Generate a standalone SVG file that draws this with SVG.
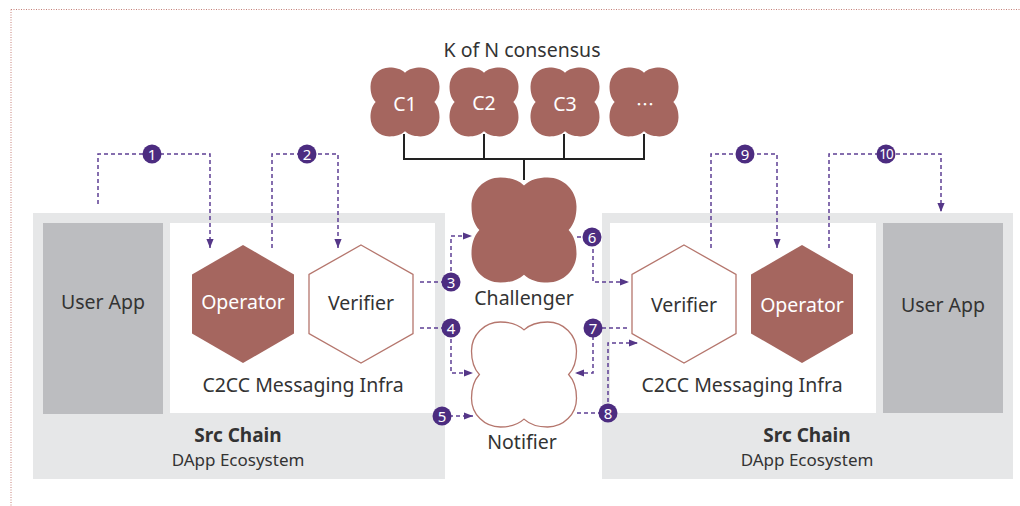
<svg xmlns="http://www.w3.org/2000/svg" width="1020" height="506" viewBox="0 0 1020 506">
<style>
text{font-family:"Noto Sans","Liberation Sans",sans-serif;fill:#333;}
.lbl{font-size:19.5px;text-anchor:middle;}
.w{fill:#fff;}
.b{font-weight:bold;font-size:19px;text-anchor:middle;}
.s{font-size:17px;text-anchor:middle;}
.outer{fill:#e6e7e8;}
.app{fill:#bcbdc0;}
.inner{fill:#fff;}
.op{fill:#a5665f;}
.ver{fill:#fff;stroke:#b5766d;stroke-width:1.3;}
.cl{vector-effect:non-scaling-stroke;}
.conn{fill:none;stroke:#5d3f94;stroke-width:1.5;stroke-dasharray:4 3;}
.badge circle{fill:#4c2c80;}
.badge text{fill:#fff;font-size:15px;text-anchor:middle;}
.brk{fill:none;stroke:#222;stroke-width:2;}
</style>
<defs>
<marker id="ah" viewBox="0 0 10 10" refX="10" refY="5" markerWidth="9" markerHeight="9" orient="auto" markerUnits="userSpaceOnUse">
<path d="M0,1 L10,5 L0,9 Z" fill="#553788"/>
</marker>
<path id="cloud" d="M0,-0.85 C0.12,-0.96 0.27,-1 0.45,-1 C0.754,-1 1,-0.754 1,-0.45 C1,-0.27 0.96,-0.12 0.85,0 C0.96,0.12 1,0.27 1,0.45 C1,0.754 0.754,1 0.45,1 C0.27,1 0.12,0.96 0,0.85 C-0.12,0.96 -0.27,1 -0.45,1 C-0.754,1 -1,0.754 -1,0.45 C-1,0.27 -0.96,0.12 -0.85,0 C-0.96,-0.12 -1,-0.27 -1,-0.45 C-1,-0.754 -0.754,-1 -0.45,-1 C-0.27,-1 -0.12,-0.96 0,-0.85 Z"/>
</defs>
<g id="frame">
<path d="M11,9.5 H1020 M11,9.5 V506" fill="none" stroke="#c47f77" stroke-width="1" stroke-dasharray="1 1.5"/>
</g>
<g id="src-chain-left">
<rect class="outer" x="33" y="213" width="412" height="266"/>
<text class="b" x="238" y="442">Src Chain</text>
<text class="s" x="238" y="466">DApp Ecosystem</text>
</g>
<g id="user-app-left">
<rect class="app" x="43" y="223" width="120" height="191"/>
<text class="lbl" x="103" y="309">User App</text>
</g>
<g id="infra-left">
<rect class="inner" x="170" y="223" width="265" height="190"/>
<text class="lbl" x="303" y="392">C2CC Messaging Infra</text>
</g>
<g id="operator-left">
<polygon class="op" points="243,245 294,274.5 294,333.5 243,363 192,333.5 192,274.5"/>
<text class="lbl w" x="243" y="309">Operator</text>
</g>
<g id="verifier-left">
<polygon class="ver" points="361,245 413,274.5 413,333.5 361,363 309,333.5 309,274.5"/>
<text class="lbl" x="361" y="310">Verifier</text>
</g>
<g id="src-chain-right">
<rect class="outer" x="602" y="213" width="411" height="266"/>
<text class="b" x="807" y="442">Src Chain</text>
<text class="s" x="807" y="466">DApp Ecosystem</text>
</g>
<g id="infra-right">
<rect class="inner" x="610" y="223" width="266" height="190"/>
<text class="lbl" x="742" y="392">C2CC Messaging Infra</text>
</g>
<g id="user-app-right">
<rect class="app" x="883" y="223" width="120" height="190"/>
<text class="lbl" x="943" y="312">User App</text>
</g>
<g id="verifier-right">
<polygon class="ver" points="684,245 736,274.5 736,333.5 684,363 632,333.5 632,274.5"/>
<text class="lbl" x="684" y="312">Verifier</text>
</g>
<g id="operator-right">
<polygon class="op" points="802,245 853,274.5 853,333.5 802,363 751,333.5 751,274.5"/>
<text class="lbl w" x="802" y="312">Operator</text>
</g>
<g id="consensus">
<text class="lbl" x="522" y="57">K of N consensus</text>
</g>
<g id="c1">
<use href="#cloud" class="op" transform="translate(405,102) scale(34.5)"/>
<text class="lbl w" x="405" y="111">C1</text>
</g>
<g id="c2">
<use href="#cloud" class="op" transform="translate(484,102) scale(34.5)"/>
<text class="lbl w" x="484" y="110">C2</text>
</g>
<g id="c3">
<use href="#cloud" class="op" transform="translate(565,102) scale(34.5)"/>
<text class="lbl w" x="565" y="111">C3</text>
</g>
<g id="c4">
<use href="#cloud" class="op" transform="translate(644,102) scale(34.5)"/>
<text class="lbl w" x="645" y="111" style="font-family:'Noto Sans CJK SC',sans-serif;font-size:18px">…</text>
</g>
<g id="challenger">
<use href="#cloud" class="op" transform="translate(524,230) scale(52.5)"/>
<text class="lbl" x="524" y="305">Challenger</text>
</g>
<g id="notifier">
<path class="ver cl" transform="translate(524,374.5) scale(52.5)" d="M0,-0.85 C0.12,-0.96 0.27,-1 0.45,-1 C0.754,-1 1,-0.754 1,-0.45 C1,-0.27 0.96,-0.12 0.85,0 C0.96,0.12 1,0.27 1,0.45 C1,0.754 0.754,1 0.45,1 C0.27,1 0.12,0.96 0,0.85 C-0.12,0.96 -0.27,1 -0.45,1 C-0.754,1 -1,0.754 -1,0.45 C-1,0.27 -0.96,0.12 -0.85,0 C-0.96,-0.12 -1,-0.27 -1,-0.45 C-1,-0.754 -0.754,-1 -0.45,-1 C-0.27,-1 -0.12,-0.96 0,-0.85 Z"/>
<text class="lbl" x="522" y="449">Notifier</text>
</g>
<g id="connectors">
<path class="brk" d="M404,134 V159 M484,134 V159 M564,134 V159 M644,134 V159 M403,159 H645 M524,159 V180"/>
<path class="conn" marker-end="url(#ah)" d="M98,204 V154 H210 V248"/>
<path class="conn" marker-end="url(#ah)" d="M272,248 V154 H338 V248"/>
<path class="conn" marker-end="url(#ah)" d="M711,248 V154 H777 V248"/>
<path class="conn" marker-end="url(#ah)" d="M829,248 V154 H941 V212"/>
<path class="conn" marker-end="url(#ah)" d="M420,282 H451 V236 H472"/>
<path class="conn" marker-end="url(#ah)" d="M420,328 H451 V373 H473"/>
<path class="conn" marker-end="url(#ah)" d="M442,416 H473"/>
<path class="conn" marker-end="url(#ah)" d="M577,237 H593 V282 H629"/>
<path class="conn" marker-end="url(#ah)" d="M627,328 H593 V373 H575"/>
<path class="conn" marker-end="url(#ah)" d="M577,413 H608 V343 H638"/>
<g class="badge"><circle cx="152" cy="154" r="9.5"/><text x="152" y="159.5">1</text></g>
<g class="badge"><circle cx="307" cy="154" r="9.5"/><text x="307" y="159.5">2</text></g>
<g class="badge"><circle cx="451" cy="282" r="9.5"/><text x="451" y="287.5">3</text></g>
<g class="badge"><circle cx="451" cy="328" r="9.5"/><text x="451" y="333.5">4</text></g>
<g class="badge"><circle cx="442" cy="416" r="9.5"/><text x="442" y="421.5">5</text></g>
<g class="badge"><circle cx="592" cy="237" r="9.5"/><text x="592" y="242.5">6</text></g>
<g class="badge"><circle cx="593" cy="328" r="9.5"/><text x="593" y="333.5">7</text></g>
<g class="badge"><circle cx="608" cy="413" r="9.5"/><text x="608" y="418.5">8</text></g>
<g class="badge"><circle cx="745" cy="154" r="9.5"/><text x="745" y="159.5">9</text></g>
<g class="badge"><circle cx="886" cy="154" r="9.5"/><text x="886" y="159" style="font-size:13.5px;letter-spacing:-1px">10</text></g>
</g>
</svg>
